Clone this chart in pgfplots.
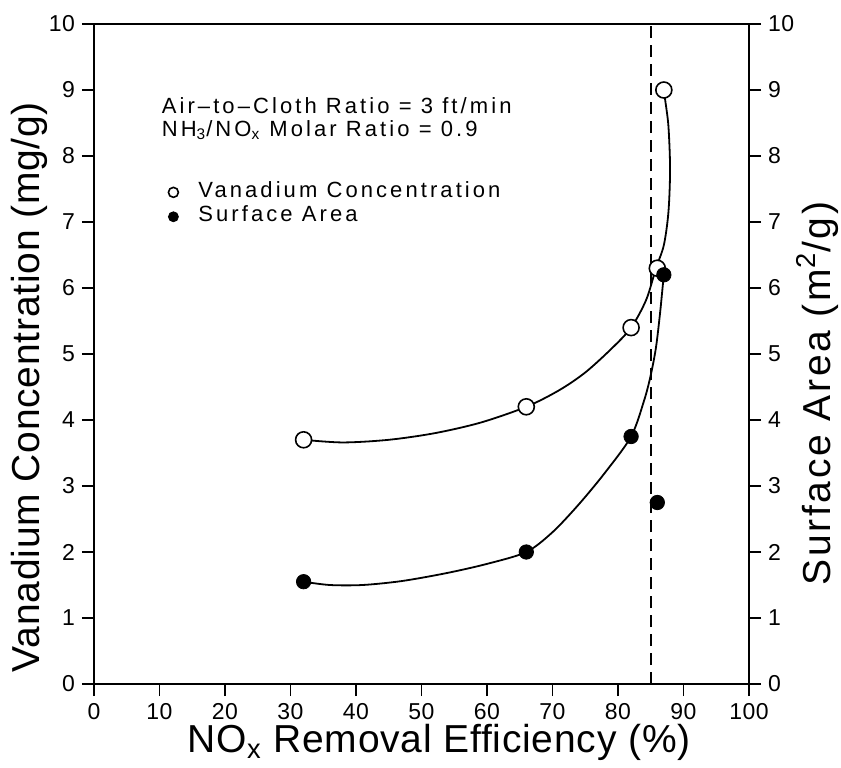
\documentclass[border=0pt]{standalone}
\usepackage{pgfplots}
\pgfplotsset{compat=1.18}
\usepackage{fontspec}
\setmainfont{Liberation Sans}[LetterSpace=2]
\newfontfamily\widefont{Liberation Sans}[LetterSpace=7]
\newfontfamily\notefont{Liberation Sans}[LetterSpace=14]

% measured vanadium concentration (mg/g) against NOx removal efficiency (%)
\pgfplotstableread{
x y
32 3.70
66 4.20
82 5.40
86 6.30
87 9.00
}\vanadium
% measured surface area (m^2/g)
\pgfplotstableread{
x y
32 1.55
66 2.00
82 3.75
86 2.75
87 6.20
}\surface

\begin{document}
\begin{tikzpicture}
\pgfplotsset{
  frame/.style={
    scale only axis, width=327.5pt, height=330pt,
    at={(0,0)}, anchor=south west,
    xmin=0, xmax=100, ymin=0, ymax=10,
    /pgf/number format/assume math mode=true,
    tick align=outside, major tick length=6pt,
    tick style={line width=0.8pt, black},
    axis line style={line width=0.9pt},
    ticklabel style={font=\fontsize{11.5}{13}\selectfont},
    label style={font=\fontsize{19.5}{22}\selectfont},
  }
}
\begin{axis}[frame,
  xtick={0,10,...,100}, ytick={0,1,...,10},
  xtick pos=bottom, ytick pos=left,
  xlabel={NO\textsubscript{x} Removal Efficiency (\%)},
  ylabel={Vanadium Concentration (mg/g)},
  xlabel style={at={(axis description cs:0.527,-0.088)}, anchor=center},
  ylabel style={at={(axis description cs:-0.098,0.45)}, anchor=center},
  legend style={at={(axis cs:11.3,7.64)}, anchor=north west, draw=none,
    fill=none, inner sep=0pt, row sep=0pt, column sep=10pt,
    nodes={inner sep=0pt, text height=8.5pt, text depth=3.7pt,
      font=\notefont\fontsize{11}{13}\selectfont}},
  legend cell align=left,
]
% fitted trend curves
\addplot[black, line width=0.9pt, smooth, forget plot] coordinates {
(32,3.70) (38,3.66) (45,3.70) (52,3.80) (59,3.96) (66,4.20) (71,4.45)
(75,4.72) (79,5.08) (82,5.40) (84.3,5.82) (85.8,6.30) (87.0,6.65)
(87.7,7.15) (87.95,7.8) (87.7,8.45) (87.2,8.85) (87,9.00)};
\addplot[black, line width=0.9pt, smooth, forget plot] coordinates {
(32,1.55) (36,1.50) (41,1.50) (47,1.56) (53.8,1.68) (60,1.82) (66,2.00)
(70,2.30) (74,2.72) (78,3.20) (82,3.75) (84,4.30) (85,4.68) (85.8,5.10)
(86.4,5.60) (86.8,6.00) (87,6.20)};
% 85 % efficiency marker
\addplot[black, line width=0.8pt, dash pattern=on 6pt off 3.5pt, forget plot]
  coordinates {(85,0) (85,10)};
% data points
\addplot[only marks, mark=*, mark size=4pt, mark options={draw=black, fill=white, line width=0.8pt}, forget plot]
  table[x=x, y=y] {\vanadium};
\addplot[only marks, mark=*, mark size=3.6pt, mark options={draw=black, fill=black}, forget plot]
  table[x=x, y=y] {\surface};
\addlegendimage{only marks, mark=*, mark size=2.5pt, mark options={draw=black, fill=white, line width=0.8pt}}
\addlegendentry{Vanadium Concentration}
\addlegendimage{only marks, mark=*, mark size=2.5pt, mark options={draw=black, fill=black}}
\addlegendentry{Surface Area}
% operating conditions
\node[anchor=base west, inner sep=0pt, font=\notefont\fontsize{11}{13}\selectfont]
  at (axis cs:10.3,8.65) {Air\textendash to\textendash Cloth Ratio = 3 ft/min};
\node[anchor=base west, inner sep=0pt, font=\notefont\fontsize{11}{13}\selectfont]
  at (axis cs:10.3,8.30) {NH\textsubscript{3}/NO\textsubscript{x} Molar Ratio = 0.9};
\end{axis}
\begin{axis}[frame,
  axis x line=none, axis y line*=right,
  ytick={0,1,...,10}, ytick pos=right,
  ylabel={\widefont Surface Area (m\textsuperscript{2}/g)},
  ylabel style={at={(axis description cs:1.104,0.44)}, anchor=center},
]
\end{axis}
\pgfresetboundingbox
\path (-47pt,-41.5pt) rectangle (373.5pt,342pt);
\end{tikzpicture}
\end{document}
